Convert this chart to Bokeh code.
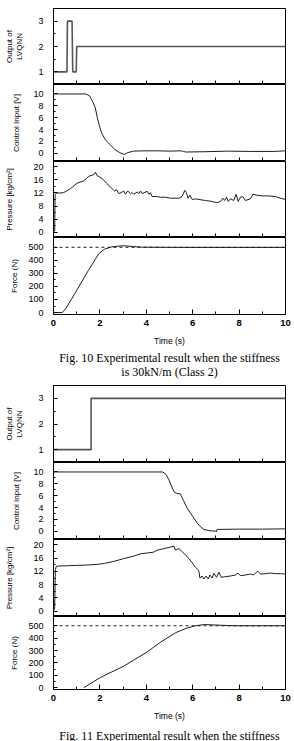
from bokeh.plotting import figure
from bokeh.layouts import column
from bokeh.models import Range1d, Span, FixedTicker
from bokeh.core.properties import value
from bokeh.embed import file_html
from bokeh.resources import INLINE

# ---------------- data ----------------
time_ticks = [0, 2, 4, 6, 8, 10]
time_minor = [1, 3, 5, 7, 9]
time_all_inner = [1, 2, 3, 4, 5, 6, 7, 8, 9]
target_force = 500

# Fig. 10
f10_lvq_t = [0, 0.58, 0.6, 0.8, 0.83, 0.98, 1.0, 10]
f10_lvq_v = [1, 1, 3, 3, 1, 1, 2, 2]

f10_ctrl_t = [0, 1.4, 1.55, 1.7, 1.8, 1.9, 2.0, 2.1, 2.25, 2.45, 2.65, 2.85, 3.05,
              3.2, 3.45, 3.9, 4.5, 5.0, 5.5, 5.6, 5.7, 6.5, 7.5, 8.5, 9.5, 10]
f10_ctrl_v = [10, 10, 9.7, 8.6, 7.7, 5.8, 4.3, 3.2, 2.2, 1.4, 0.6, 0.1, -0.2,
              0.1, 0.35, 0.4, 0.4, 0.35, 0.4, 0.3, 0.2, 0.25, 0.35, 0.3, 0.3, 0.4]

f10_pres_t = [0, 0.05, 0.07, 0.13, 0.44, 0.73, 1.02, 1.31, 1.52, 1.74,
              1.81, 1.88, 2.1, 2.28, 2.53, 2.63, 2.72, 2.82, 2.96, 3.03,
              3.1, 3.2, 3.32, 3.39, 3.46, 3.61, 3.68, 3.75, 3.82, 4.04,
              4.11, 4.18, 4.25, 4.47, 4.61, 4.83, 5.04, 5.4, 5.54, 5.66,
              5.73, 5.8, 5.88, 5.98, 6.12, 6.27, 6.55, 6.84, 7.05, 7.2,
              7.3, 7.38, 7.46, 7.53, 7.63, 7.77, 7.87, 7.96, 8.06, 8.16,
              8.27, 8.49, 8.6, 8.77, 8.99, 9.28, 9.57, 9.78, 10.0]
f10_pres_v = [0, 0.5, 11.6, 11.9, 12.1, 13.3, 15.0, 15.7, 17.1, 17.6,
              18.3, 17.3, 16.4, 15.0, 13.3, 12.6, 13.0, 11.8, 12.3, 12.6,
              11.6, 12.6, 11.8, 12.1, 11.6, 12.3, 11.8, 12.6, 11.8, 12.5,
              11.6, 12.1, 10.9, 10.9, 10.7, 10.7, 10.4, 10.4, 10.9, 12.8,
              12.1, 10.4, 11.3, 10.0, 10.2, 10.0, 9.7, 9.4, 9.0, 9.4,
              10.4, 9.7, 10.7, 9.4, 10.2, 9.7, 11.6, 9.4, 10.7, 10.9,
              9.7, 10.2, 11.6, 11.3, 11.1, 11.1, 10.9, 10.4, 10.0]

f10_force_t = [0, 0.37, 0.5, 0.75, 1.0, 1.5, 1.95, 2.2, 2.5, 3.0, 3.4, 3.8, 4.5, 6.0, 8.0, 10.0]
f10_force_v = [0, 0, 22, 95, 170, 322, 451, 485, 503, 512, 506, 501, 500, 499, 499, 499]

# Fig. 11
f11_lvq_t = [0, 1.62, 1.62, 10]
f11_lvq_v = [1, 1, 3, 3]

f11_ctrl_t = [0, 4.71, 4.85, 4.97, 5.1, 5.19, 5.3, 5.47, 5.6, 5.76, 6.0,
              6.19, 6.35, 6.48, 6.7, 6.98, 7.02, 7.05, 8.0, 9.0, 10.0]
f11_ctrl_v = [10, 10, 9.6, 8.7, 7.5, 6.7, 6.4, 6.3, 5.2, 3.9, 2.5,
              1.4, 0.7, 0.3, 0.1, 0.0, -0.1, 0.3, 0.35, 0.35, 0.4]

f11_pres_t = [0, 0.05, 0.08, 0.12, 0.2, 0.6, 1.0, 1.4, 1.88, 2.2,
              2.6, 3.0, 3.46, 3.75, 4.0, 4.32, 4.47, 4.8, 5.19, 5.26,
              5.4, 5.55, 5.76, 5.98, 6.12, 6.26, 6.31, 6.41, 6.48, 6.58,
              6.67, 6.74, 6.84, 6.91, 7.03, 7.13, 7.23, 7.41, 7.63, 7.85,
              7.95, 8.06, 8.27, 8.49, 8.63, 8.8, 8.92, 9.14, 9.35, 9.57,
              9.78, 10.0]
f11_pres_v = [0, 1, 12.5, 13.5, 13.6, 13.7, 13.8, 13.9, 14.1, 14.4,
              15.0, 15.8, 16.6, 17.3, 17.5, 17.8, 18.4, 18.9, 19.6, 18.4,
              18.9, 17.9, 16.5, 14.6, 13.2, 12.3, 10.0, 10.6, 9.7, 10.6,
              9.7, 10.9, 10.0, 11.4, 10.2, 11.8, 10.2, 10.4, 10.6, 10.9,
              11.5, 10.7, 10.9, 11.2, 10.9, 12.1, 11.2, 11.3, 11.5, 11.3,
              11.3, 11.2]

f11_force_t = [1.31, 2.03, 3.03, 4.04, 4.61, 5.26, 5.76, 6.12, 6.5, 7.0, 7.5, 8.0, 9.0, 10.0]
f11_force_v = [0, 83, 174, 289, 367, 444, 482, 500, 510, 506, 502, 500, 500, 500]

lvq_ticks, lvq_minor = [1, 2, 3], [1.5, 2.5]
ctrl_ticks, ctrl_minor = [0, 2, 4, 6, 8, 10], [1, 3, 5, 7, 9]
pres_ticks, pres_minor = [0, 4, 8, 12, 16, 20], [2, 6, 10, 14, 18]
force_ticks, force_minor = [0, 100, 200, 300, 400, 500], [50, 150, 250, 350, 450]

captions_10 = ["Fig. 10 Experimental result when the stiffness", "is 30kN/m (Class 2)"]
captions_11 = ["Fig. 11 Experimental result when the stiffness"]

# ---------------- layout / style ----------------
W = 294
LEFT = 53
RIGHT = 9
SANS = "Liberation Sans"
SERIF = "Liberation Serif"
LINE = "#1e1e1e"


def make_panel(t, v, yr, ticks, minor, label, frame_h, top=0, bottom=0,
               label_standoff=10, show_x=False, color=LINE, lw=1.0):
    p = figure(width=W, height=top + frame_h + bottom,
               x_range=Range1d(0, 10), y_range=Range1d(*yr),
               output_backend="svg", toolbar_location=None,
               min_border_left=LEFT, min_border_right=RIGHT,
               min_border_top=top, min_border_bottom=bottom)
    p.xgrid.visible = False
    p.ygrid.visible = False
    p.outline_line_color = "black"
    p.outline_line_width = 1
    p.outline_line_alpha = 1
    p.background_fill_color = "white"

    p.line(t, v, line_color=color, line_width=lw)

    ya = p.yaxis[0]
    ya.ticker = FixedTicker(ticks=ticks, minor_ticks=minor)
    ya.major_tick_in = 4
    ya.major_tick_out = 0
    ya.minor_tick_in = 2
    ya.minor_tick_out = 0
    ya.major_label_standoff = 10
    ya.major_label_text_font = SANS
    ya.major_label_text_font_size = "9px"
    ya.major_label_text_color = "black"
    ya.axis_label = label
    ya.axis_label_text_font = SANS
    ya.axis_label_text_font_size = "8px"
    ya.axis_label_text_font_style = "normal"
    ya.axis_label_text_color = "black"
    ya.axis_label_standoff = label_standoff
    ya.axis_line_color = "black"

    xa = p.xaxis[0]
    xa.axis_line_color = "black"
    xa.major_tick_out = 0
    xa.minor_tick_out = 0
    if show_x:
        xa.ticker = FixedTicker(ticks=time_ticks, minor_ticks=time_minor)
        xa.major_tick_in = 5
        xa.minor_tick_in = 3
        xa.major_label_standoff = 5
        xa.major_label_text_font = SANS
        xa.major_label_text_font_size = "9.5px"
        xa.major_label_text_font_style = "bold"
        xa.major_label_text_color = "black"
        xa.axis_label = "Time (s)"
        xa.axis_label_text_font = SANS
        xa.axis_label_text_font_size = "8.5px"
        xa.axis_label_text_font_style = "normal"
        xa.axis_label_text_color = "black"
        xa.axis_label_standoff = 7
    else:
        # inner panels: tick marks only, no labels
        xa.ticker = FixedTicker(ticks=[], minor_ticks=time_all_inner)
        xa.major_tick_in = 0
        xa.minor_tick_in = 4
        xa.major_label_standoff = 0
    return p


def make_caption(lines, ys, h):
    c = figure(width=W, height=h, x_range=Range1d(0, W), y_range=Range1d(h, 0),
               output_backend="svg", toolbar_location=None,
               x_axis_type=None, y_axis_type=None,
               min_border=0, min_border_left=0, min_border_right=0,
               min_border_top=0, min_border_bottom=0)
    c.outline_line_color = None
    c.xgrid.visible = False
    c.ygrid.visible = False
    c.text(x=[147] * len(lines), y=ys, text=lines,
           text_align="center", text_baseline="middle",
           text_font=value(SERIF), text_font_size="12px", text_color="black")
    return c


def force_panel(t, v, frame_h, bottom):
    p = make_panel(t, v, (-15, 575), force_ticks, force_minor, "Force (N)",
                   frame_h, bottom=bottom, label_standoff=6, show_x=True)
    p.add_layout(Span(location=target_force, dimension="width",
                      line_color=LINE, line_width=1, line_dash="3 3"))
    return p


lvq_label = "Output of\nLVQNN"
ctrl_label = "Control Input [V]"
pres_label = "Pressure [kg/cm\u00b2]"

# Fig. 10 panels
a1 = make_panel(f10_lvq_t, f10_lvq_v, (0.5, 3.5), lvq_ticks, lvq_minor, lvq_label,
                76, top=8, label_standoff=11, color="#555555", lw=1.6)
a2 = make_panel(f10_ctrl_t, f10_ctrl_v, (-1.4, 11.6), ctrl_ticks, ctrl_minor, ctrl_label,
                77, label_standoff=9)
a3 = make_panel(f10_pres_t, f10_pres_v, (-1.6, 21.6), pres_ticks, pres_minor, pres_label,
                76, label_standoff=16)
a4 = force_panel(f10_force_t, f10_force_v, 79, 32)
cap10 = make_caption(captions_10, [9, 23], 37)

# Fig. 11 panels
b1 = make_panel(f11_lvq_t, f11_lvq_v, (0.5, 3.5), lvq_ticks, lvq_minor, lvq_label,
                77, label_standoff=11, color="#555555", lw=1.6)
b2 = make_panel(f11_ctrl_t, f11_ctrl_v, (-1.4, 11.6), ctrl_ticks, ctrl_minor, ctrl_label,
                77, label_standoff=9)
b3 = make_panel(f11_pres_t, f11_pres_v, (-1.6, 21.6), pres_ticks, pres_minor, pres_label,
                77, label_standoff=16)
b4 = force_panel(f11_force_t, f11_force_v, 76, 31)
cap11 = make_caption(captions_11, [12], 19)

layout = column(a1, a2, a3, a4, cap10, b1, b2, b3, b4, cap11, spacing=0)

with open("out.html", "w") as f:
    f.write(file_html(layout, INLINE))
